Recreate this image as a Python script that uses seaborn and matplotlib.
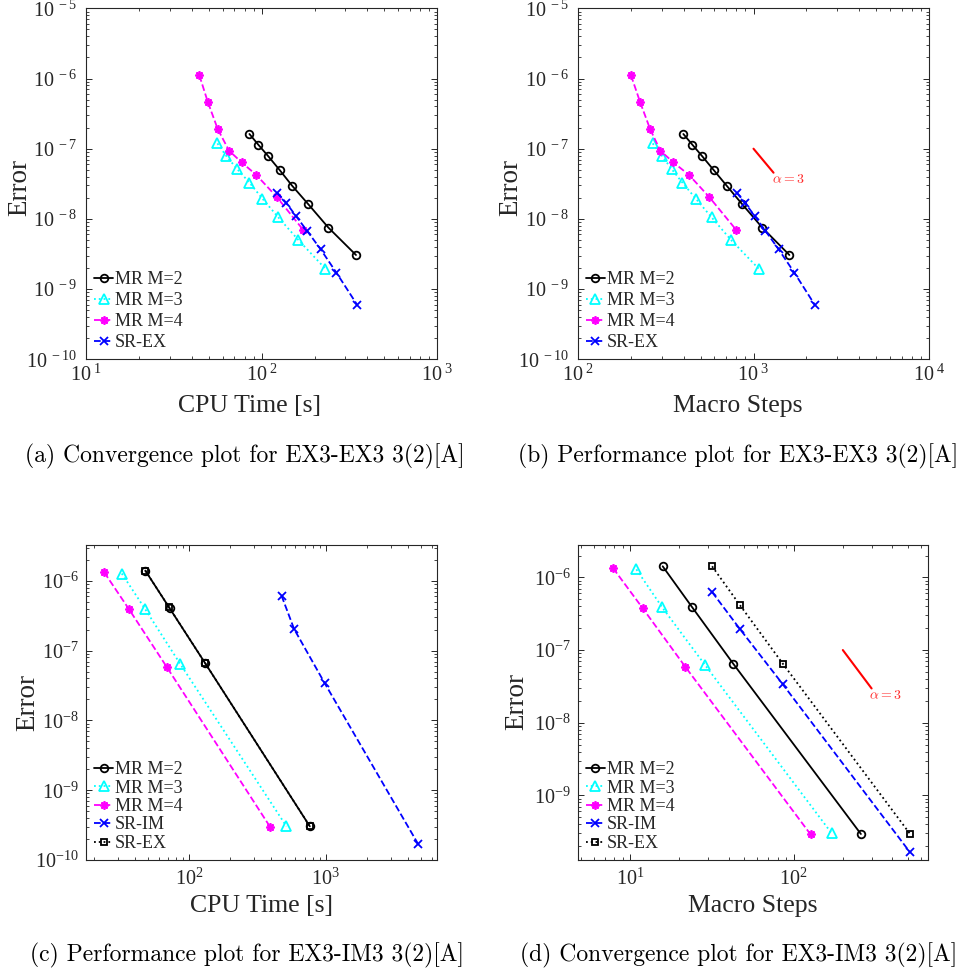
import numpy as np
import pandas as pd
import matplotlib
matplotlib.use("Agg")
import matplotlib.pyplot as plt
import seaborn as sns

# ---------------- data ----------------
legend_a = ["MR M=2", "MR M=3", "MR M=4", "SR-EX"]
legend_c = ["MR M=2", "MR M=3", "MR M=4", "SR-IM", "SR-EX"]

# panel (a)/(b) errors
err_m2 = [1.62e-7, 1.14e-7, 7.80e-8, 4.98e-8, 2.98e-8, 1.61e-8, 7.51e-9, 3.06e-9]
err_m3 = [1.19e-7, 7.96e-8, 5.09e-8, 3.29e-8, 1.95e-8, 1.05e-8, 5.01e-9, 1.96e-9]
err_m4 = [1.11e-6, 4.68e-7, 1.91e-7, 9.38e-8, 6.39e-8, 4.22e-8, 2.07e-8, 6.95e-9]
err_sr = [2.37e-8, 1.69e-8, 1.10e-8, 6.81e-9, 3.69e-9, 1.72e-9, 6.01e-10]

# panel (a) CPU time
a_m2_x = [85.2, 95.7, 109.1, 126.5, 148.9, 184.6, 239.9, 344.4]
a_m3_x = [56.0, 62.7, 72.7, 85.2, 100.9, 124.5, 161.8, 230.1]
a_m4_x = [44.2, 49.3, 56.2, 65.2, 76.9, 93.3, 121.6, 172.6]
a_sr_x = [122.7, 138.1, 156.7, 181.0, 216.7, 266.2, 349.2]

# panel (b) macro steps
b_m2_x = [399, 449, 511, 593, 703, 864, 1122, 1600]
b_m3_x = [267, 301, 343, 394, 469, 578, 745, 1069]
b_m4_x = [201, 226, 258, 295, 350, 430, 558, 798]
b_sr_x = [802, 895, 1016, 1167, 1389, 1706, 2228]

# panel (c) CPU time
c_m2_x = [47.6, 71.8, 131, 764]
c_m2_y = [1.41e-6, 4.06e-7, 6.58e-8, 3.04e-10]
c_m3_x = [32.0, 47.6, 85.9, 515]
c_m3_y = [1.28e-6, 3.92e-7, 6.44e-8, 3.04e-10]
c_m4_x = [23.8, 36.2, 68.2, 391]
c_m4_y = [1.33e-6, 3.92e-7, 5.89e-8, 2.98e-10]
c_srim_x = [474, 586, 984, 4764]
c_srim_y = [6.16e-7, 2.05e-7, 3.40e-8, 1.68e-10]
c_srex_x = [47.6, 70.7, 131, 764]
c_srex_y = [1.41e-6, 4.27e-7, 6.58e-8, 3.04e-10]

# panel (d) macro steps
d_m2_x = [15.8, 23.8, 42.7, 258]
d_m2_y = [1.42e-6, 3.95e-7, 6.48e-8, 2.94e-10]
d_m3_x = [10.9, 15.7, 28.7, 171]
d_m3_y = [1.29e-6, 3.86e-7, 6.22e-8, 3.00e-10]
d_m4_x = [7.85, 11.9, 21.7, 127]
d_m4_y = [1.34e-6, 3.78e-7, 5.90e-8, 2.90e-10]
d_srim_x = [31.7, 46.7, 85.9, 516]
d_srim_y = [6.28e-7, 1.97e-7, 3.37e-8, 1.64e-10]
d_srex_x = [31.7, 46.7, 85.9, 516]
d_srex_y = [1.42e-6, 4.21e-7, 6.48e-8, 2.94e-10]

# slope reference lines (alpha = 3)
slope_b_x = [1000, 1300]
slope_b_y = [1.0e-7, 4.55e-8]
slope_d_x = [200, 300]
slope_d_y = [1.0e-7, 2.96e-8]

captions = [
    "(a) Convergence plot for EX3-EX3 3(2)[A]",
    "(b) Performance plot for EX3-EX3 3(2)[A]",
    "(c) Performance plot for EX3-IM3 3(2)[A]",
    "(d) Convergence plot for EX3-IM3 3(2)[A]",
]

# ---------------- style ----------------
sns.set_theme(style="ticks")
plt.rcParams["font.family"] = ["Liberation Serif", "DejaVu Serif"]
plt.rcParams["mathtext.fontset"] = "custom"
plt.rcParams["mathtext.rm"] = "Liberation Serif"
plt.rcParams["mathtext.it"] = "Liberation Serif:italic"
plt.rcParams["mathtext.bf"] = "Liberation Serif:bold"
AXC = "#262626"

W, H = 967, 973
fig = plt.figure(figsize=(W / 100, H / 100), dpi=100)
fig.patch.set_facecolor("white")


def add_ax(l, t, r, b):
    return fig.add_axes([l / W, 1 - b / H, (r - l) / W, (b - t) / H])


ax_a = add_ax(86, 8.3, 437.3, 359.3)
ax_b = add_ax(577.7, 8.3, 929.3, 359.3)
ax_c = add_ax(86, 545, 436.7, 860)
ax_d = add_ax(577.7, 545, 928.3, 860)

BLACK, CYAN, MAG, BLUE = "#000000", "#00FFFF", "#FF00FF", "#0000FF"
STYLES = {
    "MR M=2": dict(color=BLACK, marker="o", linestyle="-", markersize=5.5),
    "MR M=3": dict(color=CYAN, marker="^", linestyle=":", markersize=6.5),
    "MR M=4": dict(color=MAG, marker=(8, 2, 0), linestyle="--", markersize=6),
    "SR-EX_a": dict(color=BLUE, marker="x", linestyle="--", markersize=5.5),
    "SR-IM": dict(color=BLUE, marker="x", linestyle="--", markersize=5.5),
    "SR-EX_c": dict(color=BLACK, marker="s", linestyle=":", markersize=5),
}


def draw(ax, x, y, key, label):
    st = STYLES[key]
    df = pd.DataFrame({"x": x, "y": y})
    sns.lineplot(data=df, x="x", y="y", ax=ax, estimator=None, sort=False,
                 color=st["color"], linestyle=st["linestyle"], lw=1.3,
                 marker=st["marker"], markersize=st["markersize"],
                 mfc="none", mec=st["color"], mew=1.3, label=label, legend=False)


def style_ax(ax):
    ax.set_xscale("log")
    ax.set_yscale("log")
    for s in ax.spines.values():
        s.set_color(AXC)
        s.set_linewidth(0.8)
        s.set_visible(True)
    ax.tick_params(which="both", direction="in", top=True, right=True,
                   colors=AXC, labelcolor=AXC, labelsize=14.5)
    ax.tick_params(which="major", length=4, width=0.7)
    ax.tick_params(which="minor", length=2.2, width=0.6)
    ax.set_facecolor("white")


def legend(ax, spacing):
    ax.legend(loc="lower left", frameon=False, fontsize=13, handlelength=1.05,
              handletextpad=0.1, labelspacing=spacing, borderaxespad=0.0,
              borderpad=0.45, bbox_to_anchor=(0.0, 0.0))


# ---- (a)
draw(ax_a, a_m2_x, err_m2, "MR M=2", legend_a[0])
draw(ax_a, a_m3_x, err_m3, "MR M=3", legend_a[1])
draw(ax_a, a_m4_x, err_m4, "MR M=4", legend_a[2])
draw(ax_a, a_sr_x, err_sr, "SR-EX_a", legend_a[3])
# ---- (b)
draw(ax_b, b_m2_x, err_m2, "MR M=2", legend_a[0])
draw(ax_b, b_m3_x, err_m3, "MR M=3", legend_a[1])
draw(ax_b, b_m4_x, err_m4, "MR M=4", legend_a[2])
draw(ax_b, b_sr_x, err_sr, "SR-EX_a", legend_a[3])
sns.lineplot(x=slope_b_x, y=slope_b_y, ax=ax_b, color="red", lw=1.5, estimator=None, sort=False)
# ---- (c)
draw(ax_c, c_m2_x, c_m2_y, "MR M=2", legend_c[0])
draw(ax_c, c_m3_x, c_m3_y, "MR M=3", legend_c[1])
draw(ax_c, c_m4_x, c_m4_y, "MR M=4", legend_c[2])
draw(ax_c, c_srim_x, c_srim_y, "SR-IM", legend_c[3])
draw(ax_c, c_srex_x, c_srex_y, "SR-EX_c", legend_c[4])
# ---- (d)
draw(ax_d, d_m2_x, d_m2_y, "MR M=2", legend_c[0])
draw(ax_d, d_m3_x, d_m3_y, "MR M=3", legend_c[1])
draw(ax_d, d_m4_x, d_m4_y, "MR M=4", legend_c[2])
draw(ax_d, d_srim_x, d_srim_y, "SR-IM", legend_c[3])
draw(ax_d, d_srex_x, d_srex_y, "SR-EX_c", legend_c[4])
sns.lineplot(x=slope_d_x, y=slope_d_y, ax=ax_d, color="red", lw=1.5, estimator=None, sort=False)

for ax, sp in ((ax_a, 0.22), (ax_b, 0.22), (ax_c, 0.08), (ax_d, 0.08)):
    style_ax(ax)
    legend(ax, sp)

# limits and ticks
ax_a.set_xlim(10, 1000)
ax_a.set_ylim(1e-10, 1e-5)
ax_b.set_xlim(100, 10000)
ax_b.set_ylim(1e-10, 1e-5)
ax_c.set_xlim(17.5, 6500)
ax_c.set_ylim(1e-10, 3.28e-6)
ax_d.set_xlim(4.77, 667)
ax_d.set_ylim(1.29e-10, 2.79e-6)

yt_ab = [1e-10, 1e-9, 1e-8, 1e-7, 1e-6, 1e-5]
for ax, xt in ((ax_a, [10, 100, 1000]), (ax_b, [100, 1000, 10000])):
    ax.set_xticks(xt)
    ax.set_xticklabels([r"$10^{\ %d}$" % int(round(np.log10(v))) for v in xt])
    ax.set_yticks(yt_ab)
    ax.set_yticklabels([r"$10^{\ %d}$" % int(round(np.log10(v))) for v in yt_ab])
    ax.tick_params(axis="x", pad=4)
    ax.tick_params(axis="y", pad=6)

yt_cd = [1e-10, 1e-9, 1e-8, 1e-7, 1e-6]
ax_c.set_xticks([100, 1000])
ax_c.set_xticklabels([r"$10^{2}$", r"$10^{3}$"])
ax_c.set_yticks(yt_cd)
ax_c.set_yticklabels([r"$10^{%d}$" % int(round(np.log10(v))) for v in yt_cd])
ax_d.set_xticks([10, 100])
ax_d.set_xticklabels([r"$10^{1}$", r"$10^{2}$"])
ax_d.set_yticks(yt_cd[1:])
ax_d.set_yticklabels([r"$10^{%d}$" % int(round(np.log10(v))) for v in yt_cd[1:]])
for ax in (ax_c, ax_d):
    ax.tick_params(axis="x", pad=6)
    ax.tick_params(axis="y", pad=5)

# axis labels
LBL = 18.5
for ax, xl in ((ax_a, "CPU Time [s]"), (ax_b, "Macro Steps"),
               (ax_c, "CPU Time [s]"), (ax_d, "Macro Steps")):
    ax.set_xlabel(xl, fontsize=LBL, color=AXC, va="center")
    ax.set_ylabel("Error", fontsize=LBL + 1, color=AXC, va="center")


def set_lbl(ax, box, xc, xy, yx, yy):
    l, t, r, b = box
    ax.xaxis.set_label_coords((xc - l) / (r - l), (b - xy) / (b - t))
    ax.yaxis.set_label_coords((yx - l) / (r - l), (b - yy) / (b - t))


set_lbl(ax_a, (86, 8.3, 437.3, 359.3), 249.5, 406, 19.5, 188)
set_lbl(ax_b, (577.7, 8.3, 929.3, 359.3), 738, 406, 511, 188)
set_lbl(ax_c, (86, 545, 436.7, 860), 261, 906, 28, 702.5)
set_lbl(ax_d, (577.7, 545, 928.3, 860), 753, 906, 517, 702)

# alpha annotations
ax_b.text(1578, 3.66e-8, r"$\alpha = 3$", color="#ff2a2a", fontsize=10,
          ha="center", va="center", math_fontfamily="cm")
ax_d.text(367, 2.35e-8, r"$\alpha = 3$", color="#ff2a2a", fontsize=10,
          ha="center", va="center", math_fontfamily="cm")

# captions
for txt, xc, yc in zip(captions, (245, 738, 247, 739), (456, 456, 955, 955)):
    fig.text(xc / W, 1 - yc / H, txt, fontsize=17, family=["cmr10", "DejaVu Serif"],
             ha="center", va="center", color="black")

fig.savefig("out.png", dpi=100, facecolor="white")
